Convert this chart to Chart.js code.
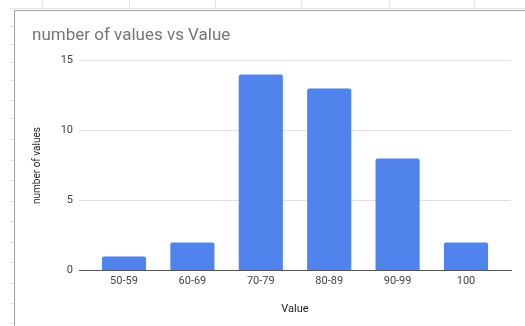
<!DOCTYPE html>
<html>
<head>
<meta charset="utf-8">
<script src="https://cdn.jsdelivr.net/npm/chart.js@4.4.1/dist/chart.umd.min.js"></script>
<style>
  html, body { margin: 0; padding: 0; background: #fff; }
  body { width: 525px; height: 326px; position: relative; overflow: hidden; }
  .sheet-line { position: absolute; background: #e6e6e6; }
  #frame {
    position: absolute; left: 14px; top: 10px; width: 511px; height: 316px;
    background: #fff; border-left: 1px solid #a0a0a0; border-top: 1px solid #a0a0a0;
    box-sizing: border-box;
  }
  #chart { position: absolute; left: 0; top: 0; }
</style>
</head>
<body>
<div id="frame"><canvas id="chart" width="510" height="315"></canvas></div>
<script>
// =========================
//  DATA
// =========================
const categories = ["50-59", "60-69", "70-79", "80-89", "90-99", "100"];
const valueCounts = [1, 2, 14, 13, 8, 2];
const yTicks = [0, 5, 10, 15];

// =========================
//  SPREADSHEET GRID BEHIND THE CHART
// =========================
function addLine(x, y, w, h) {
    const d = document.createElement("div");
    d.className = "sheet-line";
    d.style.left = x + "px";
    d.style.top = y + "px";
    d.style.width = w + "px";
    d.style.height = h + "px";
    document.body.insertBefore(d, document.getElementById("frame"));
}
addLine(9, 8, 516, 1);
[42, 129, 215, 301, 389, 474].forEach(x => addLine(x, 0, 1, 10));
[26, 44, 62, 80, 100, 118, 139, 160, 180, 201, 221, 242, 262, 283, 303, 323]
    .forEach(y => addLine(9, y, 5, 1));

// =========================
//  CHART
// =========================
const textColor = "#444";
const fontFamily = "Roboto, 'Liberation Sans', Arial, sans-serif";

new Chart(document.getElementById("chart"), {
    type: "bar",
    data: {
        datasets: [{
            data: categories.map((c, i) => ({ x: i, y: valueCounts[i] })),
            backgroundColor: "#5083ec",
            borderRadius: { topLeft: 2, topRight: 2 },
            borderSkipped: "start",
            barPercentage: 0.645,
            categoryPercentage: 1
        }]
    },
    options: {
        responsive: false,
        animation: false,
        layout: { padding: { left: 17, right: 14, top: 0, bottom: 10 } },
        plugins: {
            legend: { display: false },
            tooltip: { enabled: false },
            title: {
                display: true,
                text: "number of values vs Value",
                align: "start",
                color: "#757575",
                font: { family: fontFamily, size: 17, weight: "normal" },
                padding: { top: 15, bottom: 14 }
            }
        },
        scales: {
            x: {
                type: "linear",
                offset: false,
                min: -0.658,
                max: categories.length - 1 + 0.658,
                afterBuildTicks: scale => {
                    scale.ticks = categories.map((c, i) => ({ value: i }));
                },
                ticks: {
                    callback: v => categories[v],
                    color: textColor,
                    font: { family: fontFamily, size: 11 },
                    padding: 4,
                    maxRotation: 0,
                    autoSkip: false
                },
                grid: { display: false, drawTicks: false },
                border: { display: true, color: "#555", width: 1 },
                title: {
                    display: true,
                    text: "Value",
                    color: "#222",
                    font: { family: fontFamily, size: 11 },
                    padding: { top: 11, bottom: 0 }
                }
            },
            y: {
                min: 0,
                max: 15,
                afterBuildTicks: scale => {
                    scale.ticks = yTicks.map(v => ({ value: v }));
                },
                afterFit: scale => { scale.width = 47; },
                ticks: {
                    color: textColor,
                    font: { family: fontFamily, size: 11 },
                    padding: 6
                },
                grid: { color: "#e0e0e0", drawTicks: false },
                border: { display: false },
                title: {
                    display: true,
                    text: "number of values",
                    color: "#222",
                    font: { family: fontFamily, size: 10 },
                    padding: { top: -1, bottom: 0 }
                }
            }
        }
    }
});
</script>
</body>
</html>
